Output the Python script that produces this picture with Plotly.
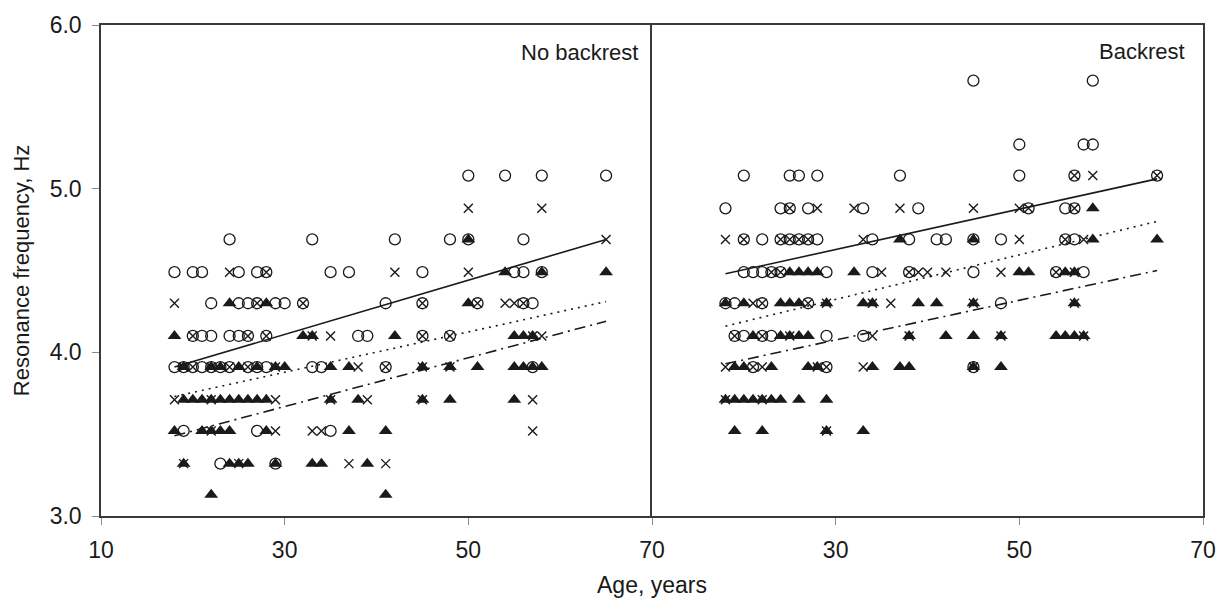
import plotly.graph_objects as go

# ---------------------------------------------------------------
# Resonance frequency (Hz) versus age (years), two seating postures.
# Each list holds (age, frequency) pairs for one marker type.
# ---------------------------------------------------------------

# No backrest
nb_circles = [
    (50, 5.08), (54, 5.08), (58, 5.08), (65, 5.08),
    (24, 4.69), (33, 4.69), (42, 4.69), (48, 4.69), (50, 4.69), (56, 4.69),
    (18, 4.49), (20, 4.49), (21, 4.49), (25, 4.49), (27, 4.49), (28, 4.49),
    (35, 4.49), (37, 4.49), (45, 4.49), (55, 4.49), (56, 4.49), (58, 4.49),
    (22, 4.30), (25, 4.30), (26, 4.30), (27, 4.30), (29, 4.30), (30, 4.30),
    (32, 4.30), (41, 4.30), (45, 4.30), (51, 4.30), (56, 4.30), (57, 4.30),
    (20, 4.10), (21, 4.10), (22, 4.10), (24, 4.10), (25, 4.10), (26, 4.10),
    (28, 4.10), (38, 4.10), (39, 4.10), (45, 4.10), (48, 4.10),
    (18, 3.91), (19, 3.91), (20, 3.91), (21, 3.91), (22, 3.91), (23, 3.91),
    (24, 3.91), (26, 3.91), (27, 3.91), (28, 3.91), (33, 3.91), (34, 3.91),
    (41, 3.91), (57, 3.91),
    (19, 3.52), (27, 3.52), (35, 3.52),
    (23, 3.32), (29, 3.32),
]
nb_crosses = [
    (50, 4.88), (58, 4.88), (65, 4.69),
    (24, 4.49), (28, 4.49), (42, 4.49), (50, 4.49),
    (18, 4.30), (27, 4.30), (32, 4.30), (45, 4.30), (51, 4.30), (54, 4.30),
    (55, 4.30), (56, 4.30),
    (20, 4.10), (26, 4.10), (28, 4.10), (33, 4.10), (35, 4.10), (45, 4.10),
    (48, 4.10), (57, 4.10), (58, 4.10),
    (19, 3.91), (20, 3.91), (22, 3.91), (24, 3.91), (26, 3.91), (29, 3.91),
    (38, 3.91), (41, 3.91), (45, 3.91), (48, 3.91),
    (18, 3.71), (22, 3.71), (29, 3.71), (35, 3.71), (39, 3.71), (45, 3.71),
    (57, 3.71),
    (22, 3.52), (29, 3.52), (33, 3.52), (34, 3.52), (57, 3.52),
    (19, 3.32), (25, 3.32), (37, 3.32), (41, 3.32),
]
nb_triangles = [
    (50, 4.69),
    (54, 4.49), (58, 4.49), (65, 4.49),
    (24, 4.30), (28, 4.30), (50, 4.30),
    (18, 4.10), (32, 4.10), (33, 4.10), (42, 4.10), (55, 4.10), (56, 4.10),
    (57, 4.10),
    (19, 3.91), (22, 3.91), (23, 3.91), (25, 3.91), (27, 3.91), (29, 3.91),
    (30, 3.91), (35, 3.91), (37, 3.91), (45, 3.91), (48, 3.91), (51, 3.91),
    (55, 3.91), (56, 3.91), (57, 3.91), (58, 3.91),
    (19, 3.71), (20, 3.71), (21, 3.71), (22, 3.71), (23, 3.71), (24, 3.71),
    (25, 3.71), (26, 3.71), (27, 3.71), (28, 3.71), (35, 3.71), (38, 3.71),
    (45, 3.71), (48, 3.71), (55, 3.71),
    (18, 3.52), (21, 3.52), (22, 3.52), (23, 3.52), (24, 3.52), (28, 3.52),
    (37, 3.52), (41, 3.52),
    (19, 3.32), (24, 3.32), (25, 3.32), (26, 3.32), (29, 3.32), (33, 3.32),
    (34, 3.32), (39, 3.32),
    (22, 3.13), (41, 3.13),
]

# Backrest
br_circles = [
    (45, 5.66), (58, 5.66),
    (50, 5.27), (57, 5.27), (58, 5.27),
    (20, 5.08), (25, 5.08), (26, 5.08), (28, 5.08), (37, 5.08), (50, 5.08),
    (56, 5.08), (65, 5.08),
    (18, 4.88), (24, 4.88), (25, 4.88), (27, 4.88), (33, 4.88), (39, 4.88),
    (51, 4.88), (55, 4.88), (56, 4.88),
    (20, 4.69), (22, 4.69), (24, 4.69), (25, 4.69), (26, 4.69), (27, 4.69),
    (28, 4.69), (34, 4.69), (38, 4.69), (41, 4.69), (42, 4.69), (45, 4.69),
    (48, 4.69), (55, 4.69), (56, 4.69),
    (20, 4.49), (21, 4.49), (22, 4.49), (23, 4.49), (24, 4.49), (29, 4.49),
    (34, 4.49), (38, 4.49), (45, 4.49), (54, 4.49), (57, 4.49),
    (18, 4.30), (19, 4.30), (22, 4.30), (27, 4.30), (48, 4.30),
    (19, 4.10), (20, 4.10), (22, 4.10), (23, 4.10), (29, 4.10), (33, 4.10),
    (21, 3.91), (29, 3.91), (45, 3.91),
]
br_crosses = [
    (56, 5.08), (58, 5.08), (65, 5.08),
    (25, 4.88), (28, 4.88), (32, 4.88), (37, 4.88), (45, 4.88), (50, 4.88),
    (51, 4.88), (56, 4.88),
    (18, 4.69), (20, 4.69), (24, 4.69), (25, 4.69), (26, 4.69), (27, 4.69),
    (33, 4.69), (50, 4.69), (55, 4.69), (57, 4.69),
    (23, 4.49), (24, 4.49), (35, 4.49), (38, 4.49), (39, 4.49), (40, 4.49),
    (42, 4.49), (48, 4.49), (54, 4.49), (56, 4.49),
    (21, 4.30), (22, 4.30), (27, 4.30), (29, 4.30), (34, 4.30), (36, 4.30),
    (45, 4.30), (56, 4.30),
    (19, 4.10), (22, 4.10), (25, 4.10), (34, 4.10), (38, 4.10), (48, 4.10),
    (57, 4.10),
    (18, 3.91), (21, 3.91), (22, 3.91), (28, 3.91), (29, 3.91), (33, 3.91),
    (45, 3.91),
    (18, 3.71), (22, 3.71),
    (29, 3.52),
]
br_triangles = [
    (58, 4.88),
    (37, 4.69), (45, 4.69), (58, 4.69), (65, 4.69),
    (25, 4.49), (26, 4.49), (27, 4.49), (28, 4.49), (32, 4.49), (50, 4.49),
    (51, 4.49), (55, 4.49), (56, 4.49),
    (18, 4.30), (20, 4.30), (24, 4.30), (25, 4.30), (26, 4.30), (29, 4.30),
    (33, 4.30), (34, 4.30), (39, 4.30), (41, 4.30), (45, 4.30), (56, 4.30),
    (21, 4.10), (24, 4.10), (25, 4.10), (26, 4.10), (27, 4.10), (38, 4.10),
    (42, 4.10), (45, 4.10), (48, 4.10), (54, 4.10), (55, 4.10), (56, 4.10),
    (57, 4.10),
    (19, 3.91), (20, 3.91), (23, 3.91), (27, 3.91), (28, 3.91), (34, 3.91),
    (37, 3.91), (38, 3.91), (45, 3.91), (48, 3.91),
    (18, 3.71), (19, 3.71), (20, 3.71), (21, 3.71), (22, 3.71), (23, 3.71),
    (24, 3.71), (26, 3.71), (29, 3.71),
    (19, 3.52), (22, 3.52), (29, 3.52), (33, 3.52),
]

# Linear fits, evaluated at the youngest and oldest ages
fit_ages = [18, 65]
nb_fit_circles = [3.91, 4.69]
nb_fit_crosses = [3.73, 4.31]
nb_fit_triangles = [3.49, 4.19]
br_fit_circles = [4.48, 5.06]
br_fit_crosses = [4.16, 4.80]
br_fit_triangles = [3.93, 4.50]

x_ticks_left = [10, 30, 50, 70]
x_ticks_right = [30, 50, 70]
y_ticks = [3.0, 4.0, 5.0, 6.0]

FONT = "Liberation Sans, Arial, sans-serif"
INK = "#1a1a1a"
FRAME = "#3a3a3a"

marker_styles = {
    "circle": dict(symbol="circle-open", size=11, color=INK, line=dict(width=1.3, color=INK)),
    "cross": dict(symbol="x-thin-open", size=9, color=INK, line=dict(width=1.4, color=INK)),
    "triangle": dict(symbol="triangle-up", size=12, color=INK, line=dict(width=0)),
}
fit_dash = {"circle": "solid", "cross": "2px,5px", "triangle": "11px,5px,2px,5px"}

fig = go.Figure()

panels = [
    ("x", "y", {"circle": nb_circles, "cross": nb_crosses, "triangle": nb_triangles},
     {"circle": nb_fit_circles, "cross": nb_fit_crosses, "triangle": nb_fit_triangles}),
    ("x2", "y2", {"circle": br_circles, "cross": br_crosses, "triangle": br_triangles},
     {"circle": br_fit_circles, "cross": br_fit_crosses, "triangle": br_fit_triangles}),
]

for xa, ya, groups, fits in panels:
    for kind in ["circle", "cross", "triangle"]:
        fig.add_trace(go.Scatter(
            x=fit_ages, y=fits[kind], mode="lines", xaxis=xa, yaxis=ya,
            line=dict(color=INK, width=1.6, dash=fit_dash[kind]),
            showlegend=False, hoverinfo="skip",
        ))
    for kind in ["circle", "cross", "triangle"]:
        pts = groups[kind]
        fig.add_trace(go.Scatter(
            x=[p[0] for p in pts], y=[p[1] for p in pts], mode="markers",
            xaxis=xa, yaxis=ya, marker=marker_styles[kind],
            showlegend=False, cliponaxis=False,
        ))

axis_common = dict(
    range=[10, 70], showgrid=False, zeroline=False, showline=True,
    linecolor=FRAME, linewidth=1.5, mirror=True,
    ticks="outside", ticklen=7, tickcolor="#8a8a8a", tickwidth=1,
    tickfont=dict(family=FONT, size=23, color=INK), ticklabelstandoff=6,
)

fig.update_layout(
    width=1228, height=603,
    margin=dict(l=101, r=25, t=16, b=87),
    paper_bgcolor="white", plot_bgcolor="white",
    font=dict(family=FONT, color=INK),
    xaxis=dict(domain=[0, 0.5], anchor="y", tickvals=x_ticks_left,
               ticktext=[str(v) for v in x_ticks_left], **axis_common),
    xaxis2=dict(domain=[0.5, 1], anchor="y2", tickvals=x_ticks_right,
                ticktext=[str(v) for v in x_ticks_right], **axis_common),
    # left panel: only its own left edge; the shared divider comes from yaxis2
    yaxis=dict(range=[3, 6], anchor="x", showgrid=False, zeroline=False,
               showline=True, linecolor=FRAME, linewidth=1.5, mirror=False,
               ticks="outside", ticklen=7, tickcolor="#8a8a8a",
               tickvals=y_ticks, ticktext=[f"{v:.1f}" for v in y_ticks],
               tickfont=dict(family=FONT, size=23, color=INK),
               ticklabelstandoff=6),
    yaxis2=dict(range=[3, 6], anchor="x2", showgrid=False, zeroline=False,
                showline=True, linecolor=FRAME, linewidth=1.5, mirror=True,
                showticklabels=False, ticks=""),
    annotations=[
        dict(text="No backrest", xref="x", yref="y", x=68.7, y=5.83,
             xanchor="right", yanchor="middle", showarrow=False,
             font=dict(family=FONT, size=22, color=INK)),
        dict(text="Backrest", xref="x2", yref="y2", x=68.3, y=5.84,
             xanchor="right", yanchor="middle", showarrow=False,
             font=dict(family=FONT, size=22, color=INK)),
        dict(text="Age, years", xref="paper", yref="paper", x=0.5, y=-0.14,
             xanchor="center", yanchor="middle", showarrow=False,
             font=dict(family=FONT, size=23, color=INK)),
        dict(text="Resonance frequency, Hz", xref="paper", yref="paper",
             x=-0.072, y=0.5, xanchor="center", yanchor="middle",
             textangle=-90, showarrow=False,
             font=dict(family=FONT, size=22, color=INK)),
    ],
)

fig.write_html("out.html")
